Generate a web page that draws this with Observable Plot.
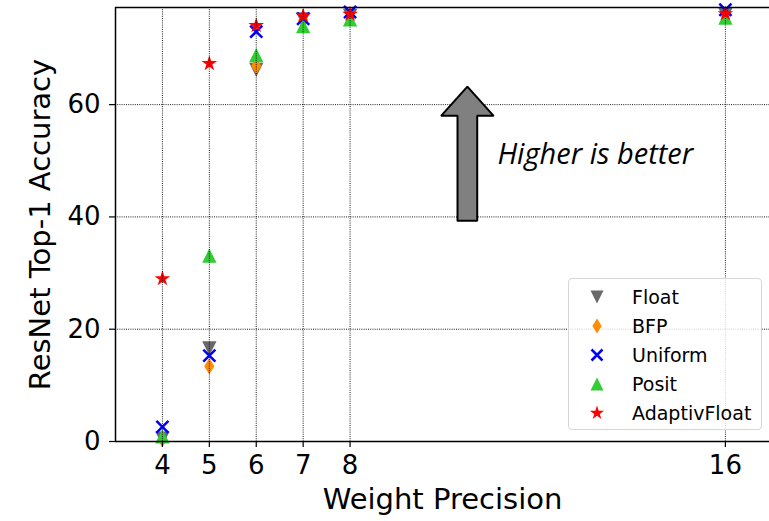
<!DOCTYPE html>
<html><head><meta charset="utf-8">
<script src="https://cdn.jsdelivr.net/npm/d3@7"></script>
<script src="https://cdn.jsdelivr.net/npm/@observablehq/plot@0.6"></script>
<style>
body{margin:0;background:#fff;font-family:"DejaVu Sans",sans-serif;}
#wrap{position:relative;width:769px;height:521px;overflow:hidden;}
#legend{position:absolute;left:568px;top:278px;width:194px;height:152px;border:1px solid #d6d6d6;border-radius:4px;background:rgba(255,255,255,0.8);box-sizing:border-box;padding-top:3px;}
.row{height:29px;display:flex;align-items:center;font-size:19px;color:#000;}
.row svg{margin-left:16px;margin-right:23px;flex:none;}
</style>
</head><body>
<div id="wrap"><div id="chart"></div><div id="legend"></div></div>
<script>
// ---- data ----
const precisions = [4, 5, 6, 7, 8, 16];
const floatAcc    = [0.5, 16.6, 66.2, 75.2, 75.8, 76.0];
const bfpAcc      = [0.4, 13.4, 66.9, 75.0, 75.6, 76.0];
const uniformAcc  = [2.6, 15.3, 73.0, 75.3, 76.5, 76.9];
const positAcc    = [0.9, 33.1, 68.8, 74.0, 75.2, 75.5];
const adaptivAcc  = [29.0, 67.3, 74.1, 75.8, 76.1, 76.2];
const seriesNames = ["Float", "BFP", "Uniform", "Posit", "AdaptivFloat"];
const xTicks = [4, 5, 6, 7, 8, 16];
const yTicks = [0, 20, 40, 60];
const xLabel = "Weight Precision";
const yLabel = "ResNet Top-1 Accuracy";
const note = "Higher is better";
// annotation arrow (data units)
const arrowX = [10.29, 10.29, 9.94, 10.5, 11.06, 10.71, 10.71, 10.29];
const arrowY = [39.3, 58.0, 58.0, 63.2, 58.0, 58.0, 39.3, 39.3];
const noteX = 11.14, noteY = 51.0;

// ---- symbols ----
const unit = size => Math.sqrt(size / Math.PI) / 5;
const triDown = {draw(c, s){const a = 6.5*unit(s); c.moveTo(-a,-a); c.lineTo(a,-a); c.lineTo(0,a); c.closePath();}};
const triUp = {draw(c, s){const a = 6.5*unit(s); c.moveTo(0,-a); c.lineTo(a,a); c.lineTo(-a,a); c.closePath();}};
const thinDiamond = {draw(c, s){const k = unit(s), h = 7.5*k, w = 4.6*k; c.moveTo(0,-h); c.lineTo(w,0); c.lineTo(0,h); c.lineTo(-w,0); c.closePath();}};
const timesSym = {draw(c, s){const a = 5.5*unit(s); c.moveTo(-a,-a); c.lineTo(a,a); c.moveTo(a,-a); c.lineTo(-a,a);}};
const starSym = {draw(c, s){const R = 7.5*unit(s), r = R*0.381966;
  for (let i = 0; i < 10; i++){const ang = -Math.PI/2 + i*Math.PI/5, rr = i%2 ? r : R;
    const x = rr*Math.cos(ang), y = rr*Math.sin(ang); if (i===0) c.moveTo(x,y); else c.lineTo(x,y);} c.closePath();}};

const styles = [
  {acc: floatAcc,   symbol: triDown,     fill: "#696969", stroke: "none", sw: 0},
  {acc: bfpAcc,     symbol: thinDiamond, fill: "#ff8c00", stroke: "none", sw: 0},
  {acc: uniformAcc, symbol: timesSym,    fill: "none",    stroke: "#0000ff", sw: 2.5},
  {acc: positAcc,   symbol: triUp,       fill: "#32cd32", stroke: "none", sw: 0},
  {acc: adaptivAcc, symbol: starSym,     fill: "#ff0000", stroke: "none", sw: 0}
];

const gridStyle = {stroke: "#000", strokeOpacity: 0.9, strokeWidth: 1, strokeDasharray: "1,1.2"};
const yMax = 77.3;

const chart = Plot.plot({
  width: 769, height: 521,
  marginLeft: 115, marginRight: 0, marginTop: 7, marginBottom: 80,
  style: {fontFamily: "DejaVu Sans", background: "white", color: "black"},
  x: {domain: [3, 16.94], axis: null},
  y: {domain: [0, yMax], axis: null},
  marks: [
    ...styles.map(st => Plot.dot(precisions, {
      x: d => d, y: (d, i) => st.acc[i], r: 5.5, symbol: st.symbol,
      fill: st.fill, stroke: st.stroke, strokeWidth: st.sw
    })),
    Plot.ruleX(xTicks, {...gridStyle}),
    Plot.ruleY(yTicks.filter(t => t > 0), {...gridStyle}),
    Plot.line(arrowX.map((x, i) => ({x, y: arrowY[i]})), {x: "x", y: "y", fill: "#808080", stroke: "black", strokeWidth: 2, strokeLinejoin: "miter"}),
    Plot.text([{x: noteX, y: noteY, t: note}], {x: "x", y: "y", text: "t", textAnchor: "start", fontSize: 29, fontStyle: "italic", fontFamily: "Open Sans", fill: "#000"}),
    Plot.axisX({ticks: xTicks, tickFormat: d => String(d), tickSize: 6, tickPadding: 8, fontSize: 26, label: null, strokeWidth: 1.2}),
    Plot.axisY({ticks: yTicks, tickSize: 6, tickPadding: 9, fontSize: 26, label: null, strokeWidth: 1.2}),
    Plot.ruleX([3], {stroke: "black", strokeWidth: 1.5}),
    Plot.ruleY([0, yMax], {stroke: "black", strokeWidth: 1.5}),
    Plot.text([xLabel], {frameAnchor: "bottom", lineAnchor: "middle", textAnchor: "middle", dy: 58, fontSize: 29, fill: "#000"}),
    Plot.text([yLabel], {frameAnchor: "left", lineAnchor: "middle", textAnchor: "middle", rotate: -90, dx: -75, fontSize: 29, fill: "#000"})
  ]
});
document.getElementById("chart").appendChild(chart);

// ---- legend ----
const legend = document.getElementById("legend");
seriesNames.forEach((name, i) => {
  const st = styles[i];
  const row = document.createElement("div");
  row.className = "row";
  const p = d3.path();
  st.symbol.draw(p, Math.PI * 25);
  row.innerHTML = `<svg width="24" height="24" viewBox="-12 -12 24 24"><path d="${p.toString()}" fill="${st.fill}" stroke="${st.stroke}" stroke-width="${st.sw}"/></svg><span>${name}</span>`;
  legend.appendChild(row);
});
</script>
</body></html>
